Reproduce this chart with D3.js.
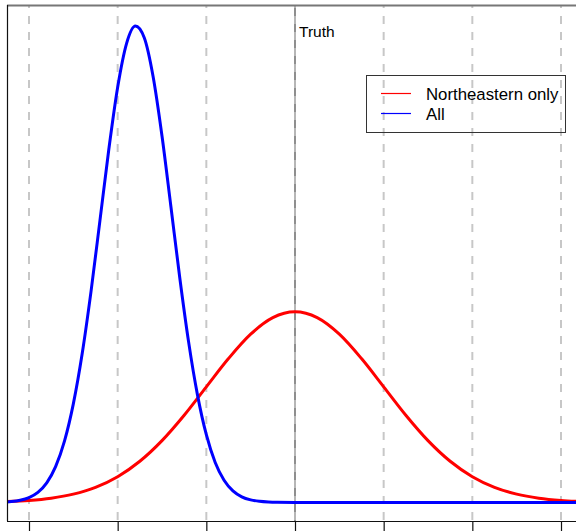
<!DOCTYPE html>
<html>
<head>
<meta charset="utf-8">
<script src="https://cdn.jsdelivr.net/npm/d3@7"></script>
<style>
  html, body { margin: 0; padding: 0; background: #fff; }
  svg { display: block; }
  text { font-family: "Liberation Sans", Arial, Helvetica, sans-serif; fill: #000; }
</style>
</head>
<body>
<svg id="chart" width="576" height="531"></svg>
<script>
// Tick positions along the estimate axis and the true value
const xTicks = [-3, -2, -1, 0, 1, 2, 3];
const truthValue = 0;
const truthLabel = "Truth";

const seriesNames = ["Northeastern only", "All"];
const seriesColors = ["#ff0000", "#0000ff"];

// Density of the estimate using Northeastern data only
const redX = [-3.25, -3, -2.75, -2.5, -2.25, -2, -1.75, -1.5, -1.25, -1, -0.75, -0.5, -0.25, 0,
              0.25, 0.5, 0.75, 1, 1.25, 1.5, 1.75, 2, 2.25, 2.5, 2.75, 3, 3.25];
const redY = [0.0020, 0.0044, 0.0091, 0.0175, 0.0317, 0.0540, 0.0863, 0.1295, 0.1826, 0.2420, 0.3011, 0.3521, 0.3867, 0.3989,
              0.3867, 0.3521, 0.3011, 0.2420, 0.1826, 0.1295, 0.0863, 0.0540, 0.0317, 0.0175, 0.0091, 0.0044, 0.0020];

// Density of the estimate using all data
const blueX = [-3.3, -3.2, -3.1, -3.0, -2.9, -2.8, -2.7, -2.6, -2.5, -2.4, -2.3, -2.2, -2.1, -2.0,
               -1.9, -1.8, -1.7, -1.6, -1.5, -1.4, -1.3, -1.2, -1.1, -1.0, -0.9, -0.8, -0.7, -0.6,
               -0.5, -0.4, -0.3, -0.2, 0, 1, 2, 3, 3.3];
const blueY = [0.0008, 0.0020, 0.0047, 0.0103, 0.0212, 0.0411, 0.0750, 0.1283, 0.2064, 0.3117, 0.4423, 0.5896, 0.7384, 0.8687,
               0.9600, 0.9967, 0.9721, 0.8906, 0.7666, 0.6198, 0.4708, 0.3360, 0.2252, 0.1418, 0.0838, 0.0466, 0.0243, 0.0119,
               0.0055, 0.0024, 0.0009, 0.0003, 0, 0, 0, 0, 0];

const svg = d3.select("#chart");

const box = { left: 7, top: 5, right: 580, bottom: 521 };

const x = d3.scaleLinear().domain([-3, 3]).range([29, 561]);
const y = d3.scaleLinear().domain([0, 1]).range([502.5, 24.5]);

// Clip marks to the plot region
svg.append("defs").append("clipPath").attr("id", "plotClip")
  .append("rect")
  .attr("x", box.left).attr("y", box.top)
  .attr("width", box.right - box.left).attr("height", box.bottom - box.top);

// Truth line (drawn beneath the dashed grid)
svg.append("line")
  .attr("x1", x(truthValue)).attr("x2", x(truthValue))
  .attr("y1", box.top).attr("y2", box.bottom)
  .attr("stroke", "#444").attr("stroke-width", 1.2);

// Dashed vertical reference lines at each tick
svg.append("g").selectAll("line")
  .data(xTicks)
  .join("line")
  .attr("x1", d => x(d)).attr("x2", d => x(d))
  .attr("y1", box.top).attr("y2", box.bottom + 1)
  .attr("stroke", "#bdbdbd")
  .attr("stroke-width", 2)
  .attr("stroke-opacity", 0.85)
  .attr("stroke-dasharray", "8,8")
  .attr("stroke-dashoffset", 5);

svg.append("text")
  .attr("x", x(truthValue) + 4)
  .attr("y", 37)
  .attr("font-size", 15.5)
  .text(truthLabel);

// Density curves
const line = d3.line()
  .x(d => x(d[0]))
  .y(d => y(d[1]))
  .curve(d3.curveMonotoneX);

const plot = svg.append("g").attr("clip-path", "url(#plotClip)");

const series = [
  { name: seriesNames[0], color: seriesColors[0], pts: d3.zip(redX, redY) },
  { name: seriesNames[1], color: seriesColors[1], pts: d3.zip(blueX, blueY) }
];

plot.selectAll("path.curve")
  .data(series)
  .join("path")
  .attr("class", "curve")
  .attr("d", d => line(d.pts))
  .attr("fill", "none")
  .attr("stroke", d => d.color)
  .attr("stroke-width", 3)
  .attr("stroke-linejoin", "round");

// Plot frame: top, left, bottom
svg.append("line")
  .attr("x1", box.left).attr("x2", box.right)
  .attr("y1", box.top + 0.5).attr("y2", box.top + 0.5)
  .attr("stroke", "#777").attr("stroke-width", 2);
svg.append("line")
  .attr("x1", box.left + 0.5).attr("x2", box.left + 0.5)
  .attr("y1", box.top).attr("y2", box.bottom)
  .attr("stroke", "#111").attr("stroke-width", 1.2);

// Bottom axis with tick marks
const xAxis = d3.axisBottom(x)
  .tickValues(xTicks)
  .tickSize(10)
  .tickFormat("");
const axisG = svg.append("g")
  .attr("transform", `translate(0,${box.bottom})`)
  .call(xAxis);
axisG.select(".domain")
  .attr("d", `M${box.left},0.5H${box.right}`)
  .attr("stroke", "#111").attr("stroke-width", 1.2);
axisG.selectAll(".tick line").attr("stroke", "#111").attr("stroke-width", 1.2);

// Legend (transparent box)
const legend = svg.append("g");
legend.append("rect")
  .attr("x", 366.5).attr("y", 75.5)
  .attr("width", 199).attr("height", 57)
  .attr("fill", "none")
  .attr("stroke", "#333").attr("stroke-width", 1);

series.forEach((s, i) => {
  const yRow = 93.5 + i * 20;
  legend.append("path")
    .attr("d", `M381,${yRow}H411`)
    .attr("fill", "none")
    .style("stroke", s.color)
    .style("stroke-width", 1.2);
  legend.append("text")
    .attr("x", 426).attr("y", yRow + 6)
    .attr("font-size", 16.8)
    .text(s.name);
});
</script>
</body>
</html>
